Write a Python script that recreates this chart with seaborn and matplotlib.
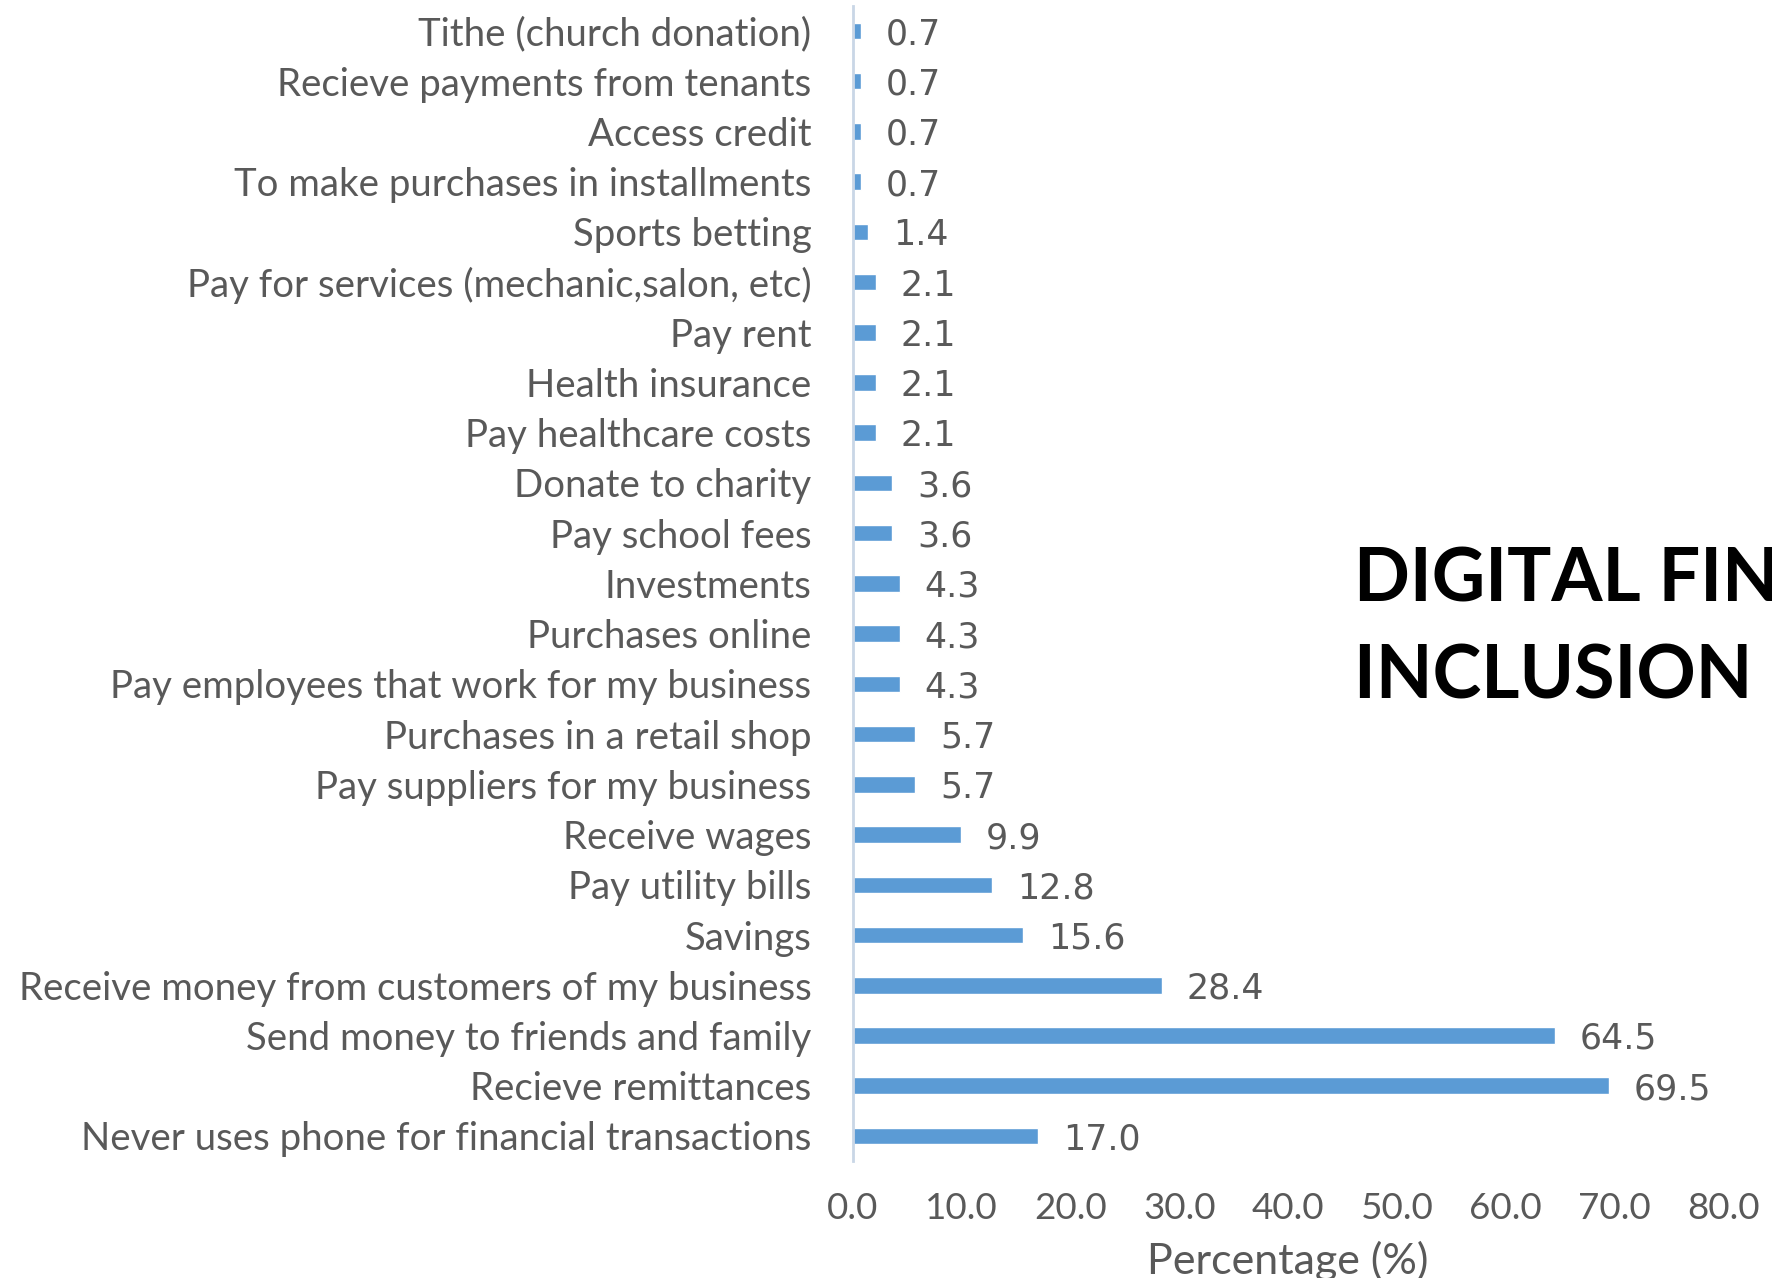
import matplotlib
matplotlib.use('Agg')
import matplotlib.pyplot as plt
import seaborn as sns
import pandas as pd

categories = [
    "Tithe (church donation)",
    "Recieve payments from tenants",
    "Access credit",
    "To make purchases in installments",
    "Sports betting",
    "Pay for services (mechanic,salon, etc)",
    "Pay rent",
    "Health insurance",
    "Pay healthcare costs",
    "Donate to charity",
    "Pay school fees",
    "Investments",
    "Purchases online",
    "Pay employees that work for my business",
    "Purchases in a retail shop",
    "Pay suppliers for my business",
    "Receive wages",
    "Pay utility bills",
    "Savings",
    "Receive money from customers of my business",
    "Send money to friends and family",
    "Recieve remittances",
    "Never uses phone for financial transactions",
]
percentages = [0.7, 0.7, 0.7, 0.7, 1.4, 2.1, 2.1, 2.1, 2.1, 3.6, 3.6, 4.3, 4.3,
               4.3, 5.7, 5.7, 9.9, 12.8, 15.6, 28.4, 64.5, 69.5, 17.0]
x_ticks = [0, 10, 20, 30, 40, 50, 60, 70, 80]

df = pd.DataFrame({"Category": categories, "Percentage": percentages})

sns.set_style("white")
plt.rcParams['font.family'] = ['Lato', 'DejaVu Sans']
grey = "#595959"

fig = plt.figure(figsize=(17.72, 12.78), dpi=100)
ax = fig.add_axes([0.4814, 0.0915, 0.491, 0.904])

sns.barplot(data=df, y="Category", x="Percentage", orient="h",
            color="#5B9BD5", width=0.33, saturation=1, ax=ax)

labels = ax.bar_label(ax.containers[0], fmt="%.1f", padding=18, fontsize=25,
                      color=grey, family="DejaVu Sans")
for t in labels:
    t.set_va("center_baseline")

ax.set_xlim(0, 80)
ax.set_xticks(x_ticks)
ax.set_xticklabels([f"{t:.1f}" for t in x_ticks])
ax.set_ylabel("")
ax.set_xlabel("Percentage (%)", fontsize=31, color=grey, labelpad=12)

ax.tick_params(axis='y', length=0, pad=30, labelsize=27.6, labelcolor=grey)
ax.tick_params(axis='x', length=0, pad=22, labelsize=26.5, labelcolor=grey)

for side in ["top", "right", "bottom"]:
    ax.spines[side].set_visible(False)
ax.spines["left"].set_color("#C9D6E6")
ax.spines["left"].set_linewidth(2)

fig.text(0.764, 0.5085, "DIGITAL FINANCIAL\nINCLUSION 2020", fontsize=53,
         fontweight="bold", color="black", va="center", ha="left",
         linespacing=1.5, family=["Lato", "DejaVu Sans"])

fig.savefig("out.png", dpi=100)
plt.close(fig)
